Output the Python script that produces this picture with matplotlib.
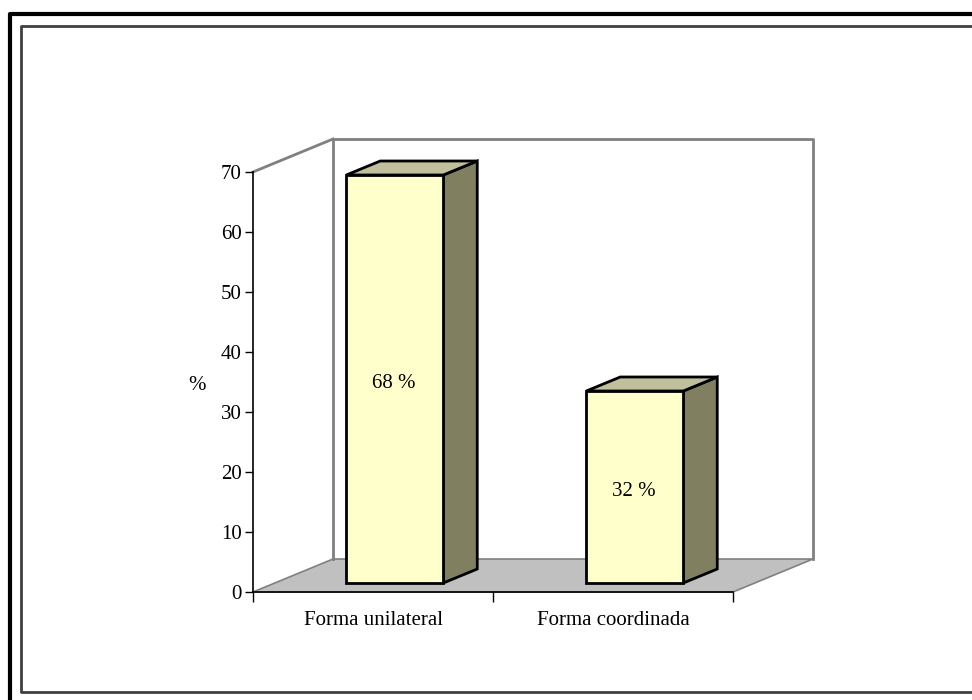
import matplotlib
matplotlib.use("Agg")
import matplotlib.pyplot as plt
from matplotlib.patches import Polygon
from matplotlib.lines import Line2D

categories = ["Forma unilateral", "Forma coordinada"]
values = [68, 32]
value_labels = ["68 %", "32 %"]
y_ticks = [0, 10, 20, 30, 40, 50, 60, 70]
y_label = "%"

plt.rcParams["font.family"] = ["Liberation Serif", "DejaVu Serif"]
FS = 15

W, H = 972, 700
fig = plt.figure(figsize=(W / 100, H / 100), dpi=100)

# front plane of the 3-D box
ax = fig.add_axes([253 / W, (H - 592) / H, 480 / W, 420 / H])
ymax = 70
ax.set_xlim(0, len(categories))
ax.set_ylim(0, ymax)

# depth offsets (in data units) of the back wall
DX = 80 / 240
DY = 33 / 6

def pt(x, y, f):
    return (x + f * DX, y + f * DY)

for s in ax.spines.values():
    s.set_visible(False)
ax.patch.set_visible(False)

wall = "#808080"
n = len(categories)
# floor
floor = Polygon([pt(0, 0, 0), pt(n, 0, 0), pt(n, 0, 1), pt(0, 0, 1)],
                closed=True, facecolor="#c0c0c0", edgecolor="#808080",
                lw=1.2, clip_on=False, zorder=1)
ax.add_patch(floor)
# back wall and side wall outlines
ax.add_line(Line2D(*zip(pt(0, 0, 1), pt(0, ymax, 1), pt(n, ymax, 1), pt(n, 0, 1)),
                   color=wall, lw=2, clip_on=False, zorder=1))
ax.add_line(Line2D(*zip(pt(0, ymax, 0), pt(0, ymax, 1)),
                   color=wall, lw=2, clip_on=False, zorder=1))
# front axis lines
ax.add_line(Line2D([0, 0], [0, ymax], color="black", lw=1.2, clip_on=False, zorder=3))
ax.add_line(Line2D([0, n], [0, 0], color="black", lw=1.2, clip_on=False, zorder=2))

# bars
bw = 97 / 240
f0, f1 = 9 / 33, 23 / 33
for i, v in enumerate(values):
    c = i + 0.5
    x0, x1 = c - bw / 2, c + bw / 2
    front = [pt(x0, 0, f0), pt(x1, 0, f0), pt(x1, v, f0), pt(x0, v, f0)]
    side = [pt(x1, 0, f0), pt(x1, 0, f1), pt(x1, v, f1), pt(x1, v, f0)]
    top = [pt(x0, v, f0), pt(x1, v, f0), pt(x1, v, f1), pt(x0, v, f1)]
    for poly, col in ((side, "#808060"), (top, "#c0c09c"), (front, "#ffffcc")):
        ax.add_patch(Polygon(poly, closed=True, facecolor=col, edgecolor="black",
                             lw=2, joinstyle="miter", clip_on=False, zorder=4))
    ax.annotate(value_labels[i], xy=pt(c, v / 2, f0), xytext=(-1, -3.5),
                textcoords="offset points", ha="center", va="center",
                fontsize=FS, zorder=5)

ax.set_yticks(y_ticks)
ax.set_yticklabels([str(t) for t in y_ticks], fontsize=FS)
ax.set_xticks(range(n + 1))
ax.set_xticklabels([])
ax.tick_params(axis="y", direction="out", length=6, width=1, pad=2)
ax.tick_params(axis="x", direction="out", length=7, width=1)
for i, name in enumerate(categories):
    ax.text(i + 0.5, -4.7, name, ha="center", va="center", fontsize=FS)
ax.text(-0.235, 34.5, y_label, ha="center", va="center", fontsize=FS)

# frame around the chart area
fig.add_artist(Line2D([9.5 / W, 9.5 / W, 1.0], [0, 1 - 14 / H, 1 - 14 / H],
                      transform=fig.transFigure, color="black", lw=3))
fig.add_artist(Line2D([1.0, 21 / W, 21 / W, 1.0],
                      [1 - 26 / H, 1 - 26 / H, 1 - 692 / H, 1 - 692 / H],
                      transform=fig.transFigure, color="#404040", lw=2))

fig.savefig("out.png", dpi=100)
